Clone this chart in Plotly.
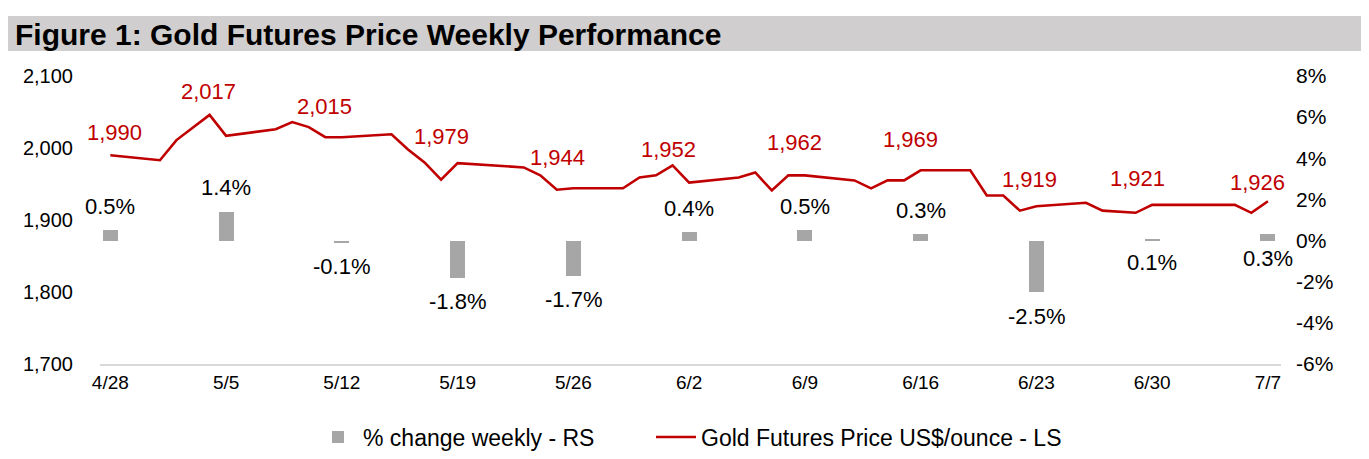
import plotly.graph_objects as go

# ---------------- DATA ----------------
dates = ["2023-04-28", "2023-05-01", "2023-05-02", "2023-05-03", "2023-05-04", "2023-05-05",
         "2023-05-08", "2023-05-09", "2023-05-10", "2023-05-11", "2023-05-12",
         "2023-05-15", "2023-05-16", "2023-05-17", "2023-05-18", "2023-05-19",
         "2023-05-22", "2023-05-23", "2023-05-24", "2023-05-25", "2023-05-26",
         "2023-05-29", "2023-05-30", "2023-05-31", "2023-06-01", "2023-06-02",
         "2023-06-05", "2023-06-06", "2023-06-07", "2023-06-08", "2023-06-09",
         "2023-06-12", "2023-06-13", "2023-06-14", "2023-06-15", "2023-06-16",
         "2023-06-19", "2023-06-20", "2023-06-21", "2023-06-22", "2023-06-23",
         "2023-06-26", "2023-06-27", "2023-06-28", "2023-06-29", "2023-06-30",
         "2023-07-03", "2023-07-04", "2023-07-05", "2023-07-06", "2023-07-07"]

gold_price = [1990, 1983, 2011, 2029, 2046, 2017,
              2026, 2036, 2029, 2015, 2015,
              2019, 1998, 1980, 1956, 1979,
              1974, 1973, 1962, 1942, 1944,
              1944, 1959, 1962, 1976, 1952,
              1959, 1966, 1941, 1962, 1962,
              1955, 1944, 1955, 1955, 1969,
              1969, 1934, 1934, 1913, 1919,
              1924, 1913, 1912, 1910, 1921,
              1921, 1921, 1921, 1910, 1926]

week_dates = ["2023-04-28", "2023-05-05", "2023-05-12", "2023-05-19", "2023-05-26", "2023-06-02",
              "2023-06-09", "2023-06-16", "2023-06-23", "2023-06-30", "2023-07-07"]
week_labels = ["4/28", "5/5", "5/12", "5/19", "5/26", "6/2", "6/9", "6/16", "6/23", "6/30", "7/7"]
weekly_change = [0.5, 1.4, -0.1, -1.8, -1.7, 0.4, 0.5, 0.3, -2.5, 0.1, 0.3]

left_ticks = [1700, 1800, 1900, 2000, 2100]
right_ticks = [-6, -4, -2, 0, 2, 4, 6, 8]

# ---------------- STYLE ----------------
RED = "#c00000"
GREY_BAR = "#a6a6a6"
FONT = "Liberation Sans, Arial, sans-serif"
# label nudges (pixels) for the weekly price labels
price_dx = [4, -18, -17, -16, -16, -21, -10, -10, -7, -15, -10]
price_dy = [23, 44, 31, 27, 31, 33, 33, 31, 27, 26, 19]
# side of the % labels: 1 above bar, -1 below
pct_side = [1, 1, -1, -1, -1, 1, 1, 1, -1, -1, -1]

W, H = 1369, 459
ML, MR, MT, MB = 100, 88, 76, 95
PW = W - ML - MR
PH = H - MT - MB


def px_x(p):
    return (p - ML) / PW


def px_y(p):
    return (H - MB - p) / PH


fig = go.Figure()

fig.add_trace(go.Bar(
    x=week_dates, y=weekly_change, yaxis="y2",
    marker=dict(color=GREY_BAR, line=dict(width=0)),
    width=0.9 * 86400000,
    name="% change weekly - RS",
    legend="legend",
))

fig.add_trace(go.Scatter(
    x=dates, y=gold_price, mode="lines",
    line=dict(color=RED, width=2.6),
    name="Gold Futures Price US$/ounce - LS",
    legend="legend2",
))

annotations = []
price_by_date = dict(zip(dates, gold_price))
for i, d in enumerate(week_dates):
    v = price_by_date[d]
    annotations.append(dict(
        x=d, y=v, xref="x", yref="y", text=f"{v:,}", showarrow=False,
        xshift=price_dx[i], yshift=price_dy[i],
        font=dict(family=FONT, size=22, color=RED),
    ))
    c = weekly_change[i]
    annotations.append(dict(
        x=d, y=c, xref="x", yref="y2", text=f"{c:.1f}%", showarrow=False,
        yshift=24 * pct_side[i],
        font=dict(family=FONT, size=22, color="#000000"),
    ))

annotations.append(dict(
    x=px_x(13), y=px_y(34), xref="paper", yref="paper",
    xanchor="left", yanchor="middle", showarrow=False,
    text="<b>Figure 1: Gold Futures Price Weekly Performance</b>",
    font=dict(family=FONT, size=30, color="#000000"),
))

legend_common = dict(orientation="h", xanchor="left", yanchor="middle", y=px_y(437),
                     font=dict(family=FONT, size=23, color="#000000"), itemwidth=40)

fig.update_layout(
    width=W, height=H,
    margin=dict(l=ML, r=MR, t=MT, b=MB, pad=0, autoexpand=False),
    paper_bgcolor="white", plot_bgcolor="white",
    showlegend=True,
    legend=dict(x=px_x(313), **legend_common),
    legend2=dict(x=px_x(651), **legend_common),
    shapes=[dict(type="rect", xref="paper", yref="paper",
                 x0=px_x(8), x1=px_x(1361), y0=px_y(51), y1=px_y(16),
                 fillcolor="#d0cece", line=dict(width=0), layer="below")],
    annotations=annotations,
    bargap=0,
    xaxis=dict(
        type="date",
        range=["2023-04-27 09:00", "2023-07-07 19:00"],
        tickmode="array", tickvals=week_dates, ticktext=week_labels,
        showgrid=False, zeroline=False,
        showline=True, linecolor="#d9d9d9", linewidth=2,
        ticks="", tickfont=dict(family=FONT, size=19, color="#000000"),
    ),
    yaxis=dict(
        range=[1700, 2100], tickmode="array", tickvals=left_ticks,
        ticktext=[f"{t:,}" for t in left_ticks],
        showgrid=False, zeroline=False, showline=False, ticks="",
        ticklabelstandoff=26,
        tickfont=dict(family=FONT, size=20, color="#000000"),
    ),
    yaxis2=dict(
        range=[-6, 8], overlaying="y", side="right",
        tickmode="array", tickvals=right_ticks, ticktext=[f"{t}%" for t in right_ticks],
        showgrid=False, zeroline=False, showline=False, ticks="",
        ticklabelstandoff=14,
        tickfont=dict(family=FONT, size=21, color="#000000"),
    ),
)

fig.write_html("out.html", config={"displayModeBar": False},
               post_script="document.body.style.margin='0px';")
